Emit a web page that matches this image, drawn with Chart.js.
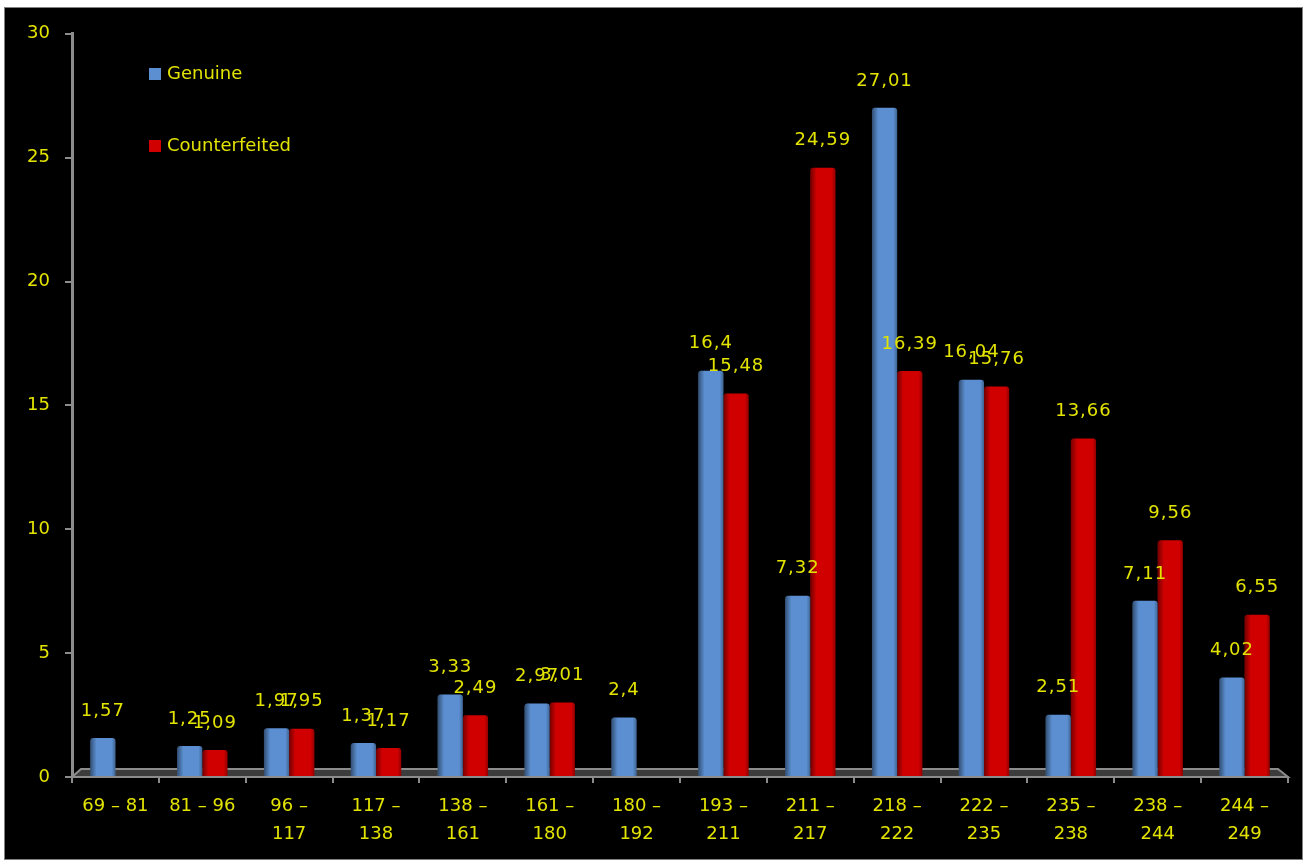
<!DOCTYPE html>
<html>
<head>
<meta charset="utf-8">
<script src="https://cdn.jsdelivr.net/npm/chart.js@4.4.1/dist/chart.umd.min.js"></script>
<style>
  body { margin: 0; background: #fff; width: 1308px; height: 863px; position: relative; overflow: hidden; }
  #frame { position: absolute; left: 4px; top: 7px; width: 1297px; height: 851px; border: 1px solid #808080; background: #000; }
  #wrap { position: absolute; left: 0; top: 0; width: 1297px; height: 851px; }
  .leg { position: absolute; font-family: "DejaVu Sans", sans-serif; font-size: 18px; color: #e3e300; line-height: 20px; }
  .leg span { display: inline-block; width: 12px; height: 12px; margin-right: 6px; vertical-align: -1px; }
</style>
</head>
<body>
<div id="frame">
  <div id="wrap"><canvas id="myBarChart"></canvas></div>
  <div class="leg" style="left:144px; top:55px;"><span style="background:#5b8fd1"></span>Genuine</div>
  <div class="leg" style="left:144px; top:127px;"><span style="background:#d00000"></span>Counterfeited</div>
</div>
<script>
var labels = [['69 – 81'], ['81 – 96'], ['96 –', '117'], ['117 –', '138'], ['138 –', '161'], ['161 –', '180'], ['180 –', '192'],
  ['193 –', '211'], ['211 –', '217'], ['218 –', '222'], ['222 –', '235'], ['235 –', '238'], ['238 –', '244'], ['244 –', '249']];
var genuine = [1.57, 1.25, 1.97, 1.37, 3.33, 2.97, 2.4, 16.4, 7.32, 27.01, 16.04, 2.51, 7.11, 4.02];
var counterfeited = [null, 1.09, 1.95, 1.17, 2.49, 3.01, null, 15.48, 24.59, 16.39, 15.76, 13.66, 9.56, 6.55];
var yTicks = [0, 5, 10, 15, 20, 25, 30];

var yellow = '#e3e300';
var axisGray = '#8c8c8c';

// gray 3D floor under the bars
var floorPlugin = {
  id: 'floor',
  beforeDatasetsDraw: function(chart) {
    var ctx = chart.ctx, a = chart.chartArea;
    ctx.save();
    ctx.fillStyle = '#3c3c3c';
    ctx.beginPath();
    ctx.moveTo(a.left, a.bottom);
    ctx.lineTo(a.left + 9, a.bottom - 8);
    ctx.lineTo(a.right - 10, a.bottom - 8);
    ctx.lineTo(a.right, a.bottom);
    ctx.closePath();
    ctx.fill();
    ctx.strokeStyle = axisGray;
    ctx.lineWidth = 2;
    ctx.stroke();
    ctx.restore();
  }
};

// cylinder shading and value labels
var barLabelPlugin = {
  id: 'barLabels',
  afterDatasetsDraw: function(chart) {
    var ctx = chart.ctx;
    ctx.save();
    chart.data.datasets.forEach(function(ds, di) {
      var meta = chart.getDatasetMeta(di);
      meta.data.forEach(function(bar, i) {
        if (ds.data[i] === null) return;
        var x0 = bar.x - bar.width / 2, x1 = bar.x + bar.width / 2;
        var g = ctx.createLinearGradient(x0, 0, x1, 0);
        g.addColorStop(0, 'rgba(0,0,0,0.45)');
        g.addColorStop(0.25, 'rgba(0,0,0,0)');
        g.addColorStop(0.85, 'rgba(0,0,0,0)');
        g.addColorStop(1, 'rgba(0,0,0,0.3)');
        ctx.fillStyle = g;
        ctx.fillRect(x0, bar.y, bar.width, bar.base - bar.y);
      });
    });
    ctx.font = '18px "DejaVu Sans"';
    ctx.letterSpacing = '1px';
    ctx.fillStyle = yellow;
    ctx.textAlign = 'center';
    ctx.textBaseline = 'middle';
    chart.data.datasets.forEach(function(ds, di) {
      var meta = chart.getDatasetMeta(di);
      meta.data.forEach(function(bar, i) {
        var v = ds.data[i];
        if (v === null) return;
        ctx.fillText(String(v).replace('.', ','), bar.x, bar.y - 27);
      });
    });
    ctx.restore();
  }
};

var ctx = document.getElementById('myBarChart').getContext('2d');
var myBarChart = new Chart(ctx, {
  type: 'bar',
  data: {
    labels: labels,
    datasets: [{
      label: 'Genuine',
      data: genuine,
      backgroundColor: '#5b8fd1',
      borderRadius: 3,
      borderSkipped: 'start',
      categoryPercentage: 0.58,
      barPercentage: 1
    },
    {
      label: 'Counterfeited',
      data: counterfeited,
      backgroundColor: '#d00000',
      borderRadius: 3,
      borderSkipped: 'start',
      categoryPercentage: 0.58,
      barPercentage: 1
    }]
  },
  options: {
    responsive: true,
    maintainAspectRatio: false,
    animation: false,
    layout: { padding: { top: 24, right: 14, left: 0, bottom: 0 } },
    plugins: {
      legend: { display: false },
      tooltip: { enabled: false }
    },
    scales: {
      x: {
        afterFit: function(s) { s.height = 82; },
        border: { color: axisGray, width: 2 },
        grid: { drawOnChartArea: false, color: axisGray, tickLength: 6, lineWidth: 2 },
        ticks: { color: yellow, font: { family: 'DejaVu Sans', size: 18, lineHeight: 1.55 }, padding: 9, maxRotation: 0, autoSkip: false }
      },
      y: {
        min: 0,
        max: 30,
        afterFit: function(s) { s.width = 67; },
        afterBuildTicks: function(s) { s.ticks = yTicks.map(function(v) { return { value: v }; }); },
        border: { color: axisGray, width: 3 },
        grid: { drawOnChartArea: false, color: axisGray, tickLength: 7, lineWidth: 2 },
        ticks: { color: yellow, font: { family: 'DejaVu Sans', size: 18 }, padding: 15 }
      }
    }
  },
  plugins: [floorPlugin, barLabelPlugin]
});
</script>
</body>
</html>
